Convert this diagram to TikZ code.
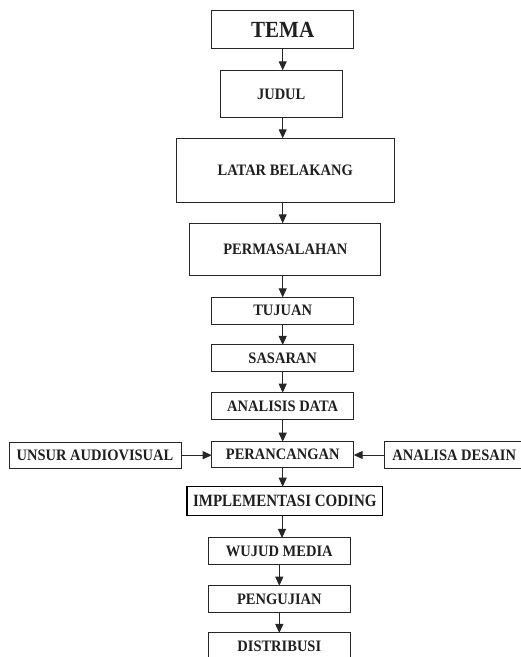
\documentclass[tikz,border=0pt]{standalone}
\usepackage{fontspec}
\setmainfont{Liberation Serif}
\usetikzlibrary{arrows.meta}
\newcommand{\tallt}[1]{\scalebox{1}[1.1]{#1}}
\begin{document}
\begin{tikzpicture}[x=1pt,y=1pt,
  box/.style={draw=black!85,line width=1pt,rectangle,inner sep=0pt,outer sep=0pt,
    text=black!88,font=\fontsize{14.5}{17}\selectfont\bfseries},
  arr/.style={draw=black!85,line width=1pt,-{Triangle[length=9pt,width=8pt]}}]
\useasboundingbox (0,0) rectangle (521,-657);
\node[box,minimum width=142pt,minimum height=38.3pt,font=\fontsize{21}{24}\selectfont\bfseries] (tema) at (282.7,-29.8) {\tallt{TEMA}};
\node[box,minimum width=122.3pt,minimum height=47.4pt] (judul) at (281.2,-94) {\tallt{JUDUL}};
\node[box,minimum width=218.3pt,minimum height=64pt] (latar) at (285.2,-170.3) {\tallt{LATAR BELAKANG}};
\node[box,minimum width=191.3pt,minimum height=52.4pt] (perm) at (285.3,-249.5) {\tallt{PERMASALAHAN}};
\node[box,minimum width=142pt,minimum height=26.7pt] (tujuan) at (282.7,-310.7) {\tallt{TUJUAN}};
\node[box,minimum width=142pt,minimum height=26.7pt] (sasaran) at (282.7,-358.3) {\tallt{SASARAN}};
\node[box,minimum width=142pt,minimum height=26.6pt] (analisis) at (282.7,-406) {\tallt{ANALISIS DATA}};
\node[box,minimum width=142pt,minimum height=26pt] (peranc) at (282.7,-454.7) {\tallt{PERANCANGAN}};
\node[box,minimum width=172pt,minimum height=26.3pt] (unsur) at (95,-455.2) {\tallt{UNSUR AUDIOVISUAL}};
\node[box,minimum width=139.7pt,minimum height=26.6pt] (desain) at (454.2,-455) {\tallt{ANALISA DESAIN}};
\node[box,line width=1.5pt,draw=black,minimum width=195.7pt,minimum height=28.6pt,font=\fontsize{15}{18}\selectfont\bfseries] (impl) at (284.8,-501) {\scalebox{1}[1.15]{IMPLEMENTASI CODING}};
\node[box,minimum width=142pt,minimum height=26.7pt] (wujud) at (279.3,-551.3) {\tallt{WUJUD MEDIA}};
\node[box,minimum width=142pt,minimum height=26.6pt] (uji) at (279.3,-599) {\tallt{PENGUJIAN}};
\node[box,minimum width=142pt,minimum height=26.7pt] (distr) at (279.3,-646.3) {\tallt{DISTRIBUSI}};
\coordinate (ax) at (282.7,0);
\draw[arr] (ax |- tema.south) -- (ax |- judul.north);
\draw[arr] (ax |- judul.south) -- (ax |- latar.north);
\draw[arr] (ax |- latar.south) -- (ax |- perm.north);
\draw[arr] (ax |- perm.south) -- (ax |- tujuan.north);
\draw[arr] (tujuan.south) -- (sasaran.north);
\draw[arr] (sasaran.south) -- (analisis.north);
\draw[arr] (analisis.south) -- (peranc.north);
\draw[arr] (peranc.south) -- (ax |- impl.north);
\coordinate (bx) at (282,0);
\draw[arr] (bx |- impl.south) -- (bx |- wujud.north);
\draw[arr] (wujud.south) -- (uji.north);
\draw[arr] (uji.south) -- (distr.north);
\draw[arr] (unsur.east) -- (unsur.east -| peranc.west);
\draw[arr] (desain.west) -- (desain.west -| peranc.east);
\end{tikzpicture}
\end{document}
